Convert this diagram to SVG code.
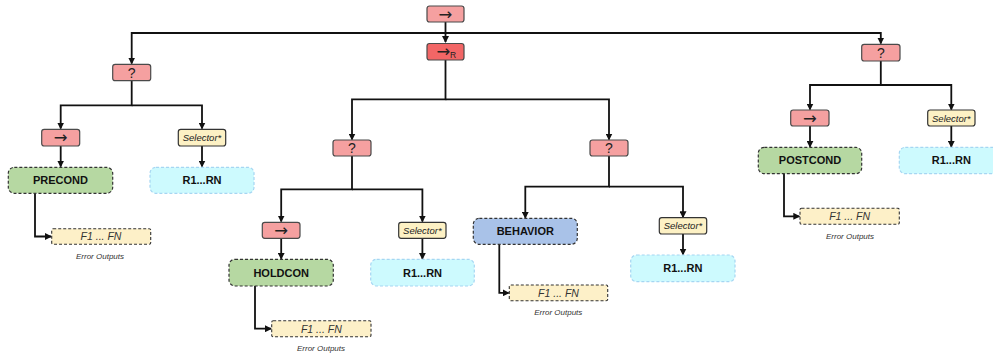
<svg xmlns="http://www.w3.org/2000/svg" width="993" height="354" viewBox="0 0 993 354">
<defs>
<marker id="ah" markerWidth="7" markerHeight="7" refX="6" refY="3.5" orient="auto" markerUnits="userSpaceOnUse">
<path d="M0,0 L7,3.5 L0,7 Z" fill="#111"/>
</marker>
<style>
.seq{fill:#f5a0a0;stroke:#4a4a4a;stroke-width:1.2}
.seqr{fill:#f26666;stroke:#4a4a4a;stroke-width:1.2}
.sel{fill:#fdf1c4;stroke:#333;stroke-width:1.2}
.green{fill:#b6d8a2;stroke:#333;stroke-width:1.2;stroke-dasharray:3 2}
.blue{fill:#a9c2e8;stroke:#333;stroke-width:1.2;stroke-dasharray:3 2}
.cyan{fill:#cdfafe;stroke:#a6d6f2;stroke-width:1.2;stroke-dasharray:3 2}
.fail{fill:#fdf0c8;stroke:#333;stroke-width:1.1;stroke-dasharray:3 2}
.sym{font-family:"DejaVu Sans","Liberation Sans",sans-serif;font-size:16.5px;fill:#222;text-anchor:middle}
.q{font-family:"Liberation Sans",Arial,sans-serif;font-size:14px;fill:#222;text-anchor:middle}
.seltx{font-family:"Liberation Sans",Arial,sans-serif;font-size:9.5px;font-style:italic;fill:#222;text-anchor:middle}
.bold{font-family:"Liberation Sans",Arial,sans-serif;font-size:11px;font-weight:bold;fill:#111;text-anchor:middle}
.ftx{font-family:"Liberation Sans",Arial,sans-serif;font-size:10.5px;font-style:italic;fill:#333;text-anchor:middle}
.err{font-family:"Liberation Sans",Arial,sans-serif;font-size:8px;font-style:italic;fill:#333;text-anchor:middle}
.c{fill:none;stroke:#111;stroke-width:1.8}
</style>
</defs>
<rect width="993" height="354" fill="#fff"/>

<g id="connectors">
<path class="c" d="M445.5,22 V42" marker-end="url(#ah)"/>
<path class="c" d="M445.5,33 H131.7 V63.5" marker-end="url(#ah)"/>
<path class="c" d="M445.5,33 H880.8 V43.5" marker-end="url(#ah)"/>

<path class="c" d="M131.7,80.7 V105.3 H60.7 V128.5" marker-end="url(#ah)"/>
<path class="c" d="M131.7,105.3 H202 V128.5" marker-end="url(#ah)"/>
<path class="c" d="M60.7,146 V166.5" marker-end="url(#ah)"/>
<path class="c" d="M202,146 V166.5" marker-end="url(#ah)"/>
<path class="c" d="M35,193.3 V236.5 H51" marker-end="url(#ah)"/>

<path class="c" d="M445.5,60 V99.3 H352 V139.5" marker-end="url(#ah)"/>
<path class="c" d="M445.5,99.3 H609 V139.5" marker-end="url(#ah)"/>

<path class="c" d="M352,156 V189.3 H281.2 V221.5" marker-end="url(#ah)"/>
<path class="c" d="M352,189.3 H422.4 V221.5" marker-end="url(#ah)"/>
<path class="c" d="M281.2,238.3 V258.8" marker-end="url(#ah)"/>
<path class="c" d="M422.4,238.3 V258.8" marker-end="url(#ah)"/>
<path class="c" d="M255,286 V328.7 H271" marker-end="url(#ah)"/>

<path class="c" d="M609,156 V186.7 H525.3 V217.8" marker-end="url(#ah)"/>
<path class="c" d="M609,186.7 H683 V217.2" marker-end="url(#ah)"/>
<path class="c" d="M683,234 V254.5" marker-end="url(#ah)"/>
<path class="c" d="M499.3,244.3 V292.9 H508.6" marker-end="url(#ah)"/>

<path class="c" d="M880.8,61 V85 H810 V109.5" marker-end="url(#ah)"/>
<path class="c" d="M880.8,85 H951.3 V109.5" marker-end="url(#ah)"/>
<path class="c" d="M810,126 V146.8" marker-end="url(#ah)"/>
<path class="c" d="M951.3,126 V146.8" marker-end="url(#ah)"/>
<path class="c" d="M784,173.7 V216.3 H799.3" marker-end="url(#ah)"/>
</g>

<g id="root-seq">
<rect class="seq" x="427" y="6" width="37" height="16" rx="2.5"/>
<text class="sym" x="445.5" y="19.5">→</text>
</g>
<g id="reactive-seq">
<rect class="seqr" x="427" y="43.5" width="37" height="16.5" rx="2.5"/>
<text class="sym" x="443.5" y="57">→</text>
<text x="453" y="57.5" font-family="Liberation Sans, Arial, sans-serif" font-size="8.5px" fill="#222" text-anchor="middle">R</text>
</g>

<!-- left branch -->
<g id="pre-fallback">
<rect class="seq" x="112.7" y="64.3" width="38" height="16.4" rx="2.5"/>
<text class="q" x="131.7" y="77.5">?</text>
</g>
<g id="pre-seq">
<rect class="seq" x="41.7" y="129.3" width="38" height="16.7" rx="2.5"/>
<text class="sym" x="60.7" y="143">→</text>
</g>
<g id="pre-selector">
<rect class="sel" x="178.3" y="129.3" width="47.4" height="16.7" rx="2.5"/>
<text class="seltx" x="202" y="141">Selector*</text>
</g>
<g id="precond">
<rect class="green" x="8.3" y="167.3" width="104.4" height="26" rx="6"/>
<text class="bold" x="60.5" y="184.2">PRECOND</text>
</g>
<g id="pre-recovery">
<rect class="cyan" x="150" y="167.3" width="104" height="26" rx="6"/>
<text class="bold" x="202" y="184.2">R1...RN</text>
</g>
<g id="pre-failures">
<rect class="fail" x="51.7" y="228.7" width="99" height="15.6" rx="1.5"/>
<text class="ftx" x="101" y="240.3">F1 ... FN</text>
<text class="err" x="100" y="259">Error Outputs</text>
</g>

<!-- middle branch -->
<g id="hold-fallback">
<rect class="seq" x="333" y="140" width="38" height="16" rx="2.5"/>
<text class="q" x="352" y="153">?</text>
</g>
<g id="hold-seq">
<rect class="seq" x="262.3" y="222.3" width="37.7" height="16" rx="2.5"/>
<text class="sym" x="281.2" y="235.8">→</text>
</g>
<g id="hold-selector">
<rect class="sel" x="398.7" y="222.3" width="47.3" height="16" rx="2.5"/>
<text class="seltx" x="422.4" y="233.8">Selector*</text>
</g>
<g id="holdcon">
<rect class="green" x="229" y="259.3" width="104.3" height="26.7" rx="6"/>
<text class="bold" x="281.2" y="276.5">HOLDCON</text>
</g>
<g id="hold-recovery">
<rect class="cyan" x="370.7" y="259.3" width="103.6" height="26.7" rx="6"/>
<text class="bold" x="422.5" y="276.5">R1...RN</text>
</g>
<g id="hold-failures">
<rect class="fail" x="271.7" y="320.7" width="99.3" height="16" rx="1.5"/>
<text class="ftx" x="321.3" y="332.5">F1 ... FN</text>
<text class="err" x="321" y="351">Error Outputs</text>
</g>

<g id="beh-fallback">
<rect class="seq" x="590" y="140" width="38" height="16" rx="2.5"/>
<text class="q" x="609" y="153">?</text>
</g>
<g id="behavior">
<rect class="blue" x="473.3" y="218.3" width="104" height="26" rx="6"/>
<text class="bold" x="525.3" y="235.2">BEHAVIOR</text>
</g>
<g id="beh-selector">
<rect class="sel" x="659.3" y="217.7" width="47.4" height="16.3" rx="2.5"/>
<text class="seltx" x="683" y="229.3">Selector*</text>
</g>
<g id="beh-recovery">
<rect class="cyan" x="630.7" y="255" width="104.3" height="26.7" rx="6"/>
<text class="bold" x="682.8" y="272.2">R1...RN</text>
</g>
<g id="beh-failures">
<rect class="fail" x="509.3" y="285" width="98.4" height="15.7" rx="1.5"/>
<text class="ftx" x="558.5" y="296.7">F1 ... FN</text>
<text class="err" x="558.3" y="315">Error Outputs</text>
</g>

<!-- right branch -->
<g id="post-fallback">
<rect class="seq" x="861.7" y="44.3" width="38.3" height="16.7" rx="2.5"/>
<text class="q" x="880.8" y="57.5">?</text>
</g>
<g id="post-seq">
<rect class="seq" x="790.7" y="110" width="38.3" height="16" rx="2.5"/>
<text class="sym" x="810" y="123.5">→</text>
</g>
<g id="post-selector">
<rect class="sel" x="927.7" y="110" width="47.3" height="16" rx="2.5"/>
<text class="seltx" x="951.3" y="121.5">Selector*</text>
</g>
<g id="postcond">
<rect class="green" x="758.3" y="147.3" width="103.4" height="26.4" rx="6"/>
<text class="bold" x="810" y="164.4">POSTCOND</text>
</g>
<g id="post-recovery">
<rect class="cyan" x="899.3" y="147.3" width="104" height="26.4" rx="6"/>
<text class="bold" x="951.3" y="164.4">R1...RN</text>
</g>
<g id="post-failures">
<rect class="fail" x="800" y="208.3" width="99.3" height="16" rx="1.5"/>
<text class="ftx" x="849.6" y="220.1">F1 ... FN</text>
<text class="err" x="850" y="239">Error Outputs</text>
</g>
</svg>
